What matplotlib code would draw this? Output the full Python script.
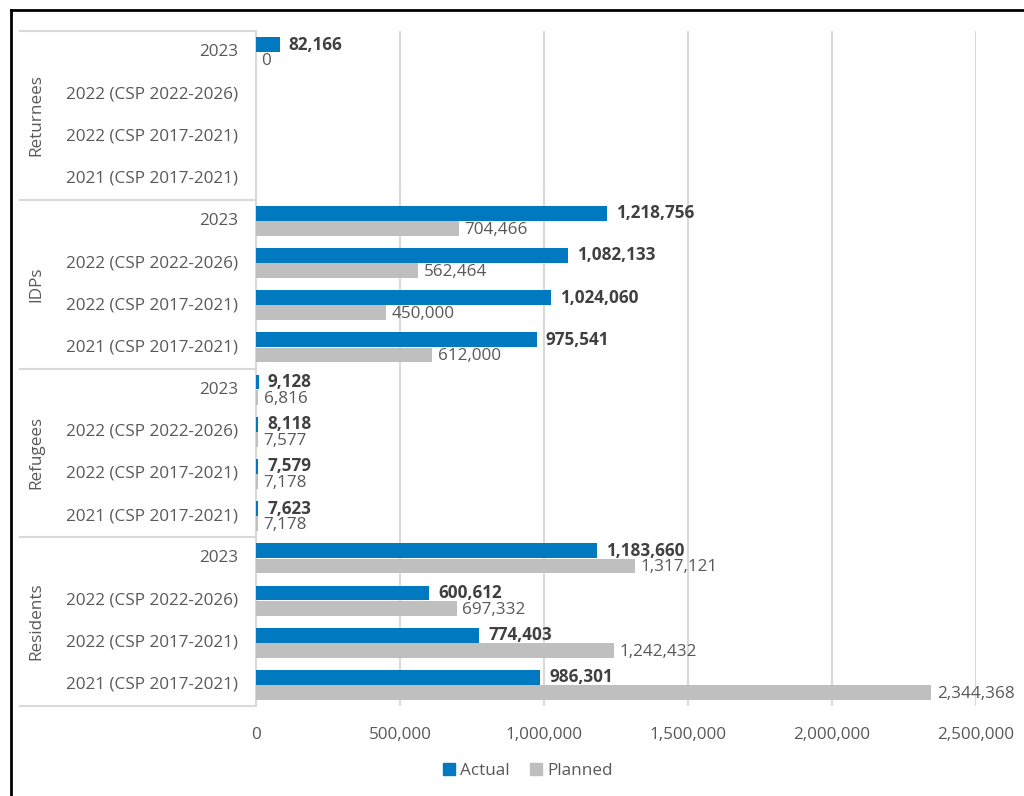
import matplotlib
matplotlib.use("Agg")
import matplotlib.pyplot as plt
import matplotlib.patches as mpatches
from matplotlib.lines import Line2D
from matplotlib.ticker import FuncFormatter
import numpy as np

plt.rcParams["font.family"] = ["Open Sans", "DejaVu Sans"]

groups = ["Returnees", "IDPs", "Refugees", "Residents"]
periods = ["2023", "2022 (CSP 2022-2026)", "2022 (CSP 2017-2021)", "2021 (CSP 2017-2021)"]

actual_returnees = [82166, None, None, None]
actual_idps = [1218756, 1082133, 1024060, 975541]
actual_refugees = [9128, 8118, 7579, 7623]
actual_residents = [1183660, 600612, 774403, 986301]

planned_returnees = [0, None, None, None]
planned_idps = [704466, 562464, 450000, 612000]
planned_refugees = [6816, 7577, 7178, 7178]
planned_residents = [1317121, 697332, 1242432, 2344368]

actual = actual_returnees + actual_idps + actual_refugees + actual_residents
planned = planned_returnees + planned_idps + planned_refugees + planned_residents

BLUE = "#0079C1"
GREY = "#BFBFBF"
TXT = "#595959"
DARK = "#404040"
GRID = "#D9D9D9"
FS = 12.3

fig = plt.figure(figsize=(10.24, 7.96), dpi=100)
ax = fig.add_axes([256 / 1024, 1 - 706 / 796, 720 / 1024, 675 / 796])

n = len(actual)
y = np.arange(n)
h = 0.35
off = 0.18

for i in range(n):
    if actual[i] is not None:
        ax.barh(y[i] - off, actual[i], height=h, color=BLUE, zorder=3)
        ax.annotate(f"{actual[i]:,}", (actual[i], y[i] - off), xytext=(6.5, 0),
                    textcoords="offset points", va="center", ha="left",
                    fontsize=FS, fontweight="bold", color=DARK)
    if planned[i] is not None:
        ax.barh(y[i] + off, planned[i], height=h, color=GREY, zorder=3)
        ax.annotate(f"{planned[i]:,}", (planned[i], y[i] + off), xytext=(4, -1),
                    textcoords="offset points", va="center", ha="left",
                    fontsize=FS, color=TXT)

ax.set_xlim(0, 2500000)
ax.set_ylim(n - 0.5, -0.5)
ax.set_xticks(np.arange(0, 2500001, 500000))
ax.xaxis.set_major_formatter(FuncFormatter(lambda v, p: f"{int(v):,}"))
ax.tick_params(axis="x", length=0, pad=15, labelsize=FS, labelcolor=TXT)
ax.set_yticks([])
ax.grid(axis="x", color=GRID, linewidth=1.5, zorder=0)
for s in ["top", "right", "bottom"]:
    ax.spines[s].set_visible(False)
ax.spines["left"].set_color(GRID)
ax.spines["left"].set_linewidth(1.5)

# category and group labels on the left
tr = ax.get_yaxis_transform()
for i in range(n):
    ax.text(-0.025, y[i], periods[i % 4], transform=tr, ha="right", va="center",
            fontsize=FS, color=TXT, clip_on=False)
for g, name in enumerate(groups):
    ax.text(-0.305, g * 4 + 1.5, name, transform=tr, ha="center", va="center",
            rotation=90, fontsize=FS, color=TXT, clip_on=False)
for b in range(len(groups) + 1):
    ax.add_line(Line2D([-0.328, 0], [b * 4 - 0.5] * 2, transform=tr, color=GRID,
                       linewidth=1.5, clip_on=False))

handles = [mpatches.Patch(color=BLUE, label="Actual"),
           mpatches.Patch(color=GREY, label="Planned")]
fig.legend(handles=handles, loc="center", bbox_to_anchor=(528 / 1024, 1 - 771 / 796),
           ncol=2, frameon=False, fontsize=FS, labelcolor=TXT, handlelength=0.7,
           handleheight=0.7, handletextpad=0.3, columnspacing=1.2)

# outer frame (left and top edges)
fig.add_artist(Line2D([11 / 1024, 11 / 1024], [0, 1 - 10 / 796], color="black", linewidth=2))
fig.add_artist(Line2D([11 / 1024, 1], [1 - 10 / 796, 1 - 10 / 796], color="black", linewidth=2))

fig.savefig("out.png", dpi=100, facecolor="white")
